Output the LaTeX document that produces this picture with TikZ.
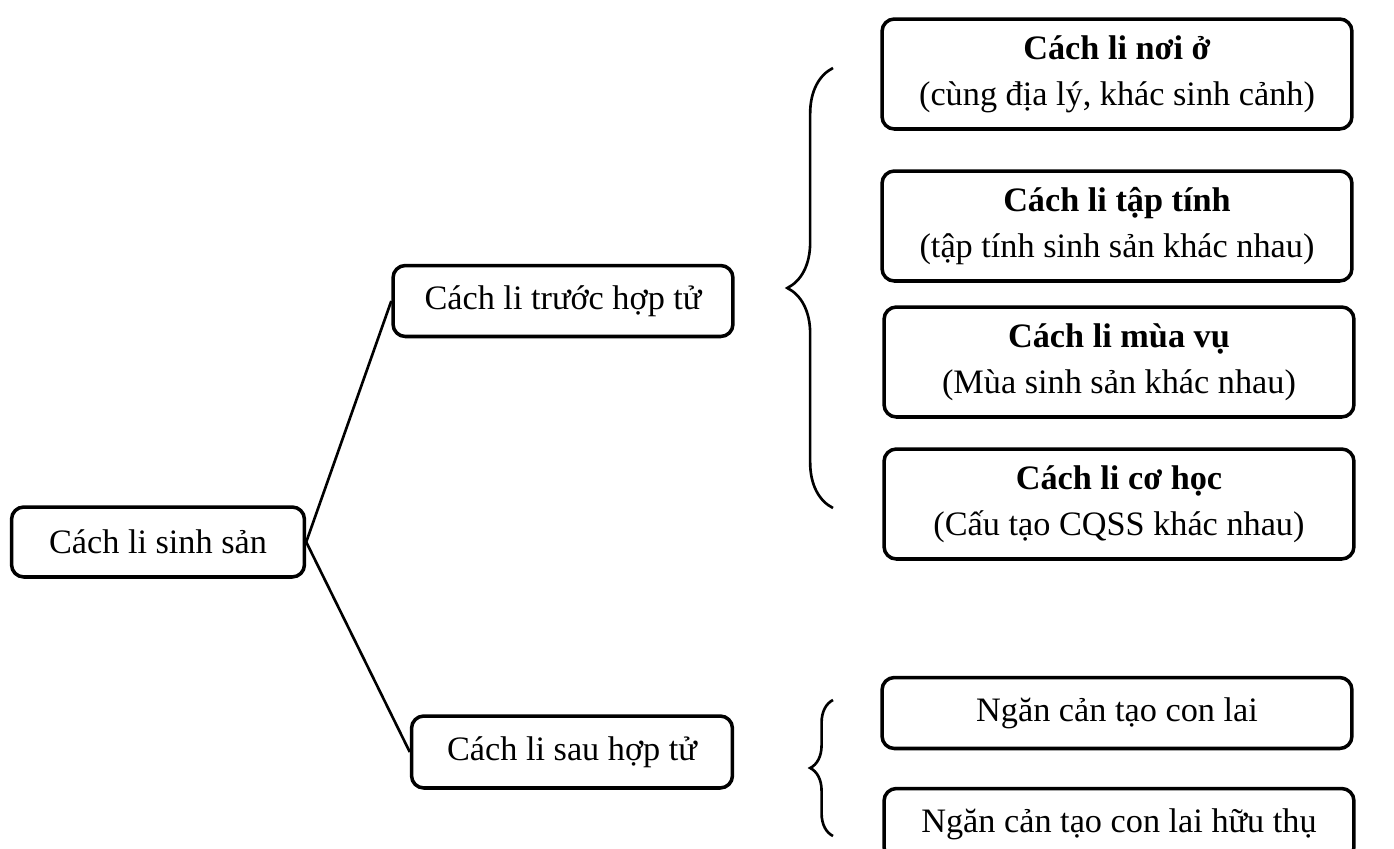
\documentclass[tikz,border=0pt]{standalone}
\usepackage{fontspec}
\setmainfont{Liberation Serif}
\usetikzlibrary{decorations.pathreplacing}

\begin{document}
\begin{tikzpicture}[x=0.02cm,y=-0.02cm,
  hop/.style={draw,line width=2pt,rounded corners=7pt,align=center,
    font=\fontsize{19.5}{26}\selectfont,inner sep=0pt},
  nhom/.style={hop,minimum width=9.4cm,minimum height=2.2cm},
  nho/.style={hop,minimum width=9.4cm,minimum height=1.42cm},
  ngoac/.style={decorate,decoration={brace,amplitude=26pt},line width=1.5pt}]
\useasboundingbox (0,0) rectangle (1394,849);

% left side
\node[hop,minimum width=5.86cm,minimum height=1.4cm] (sinhsan) at (158,542) {Cách li sinh sản};
\node[hop,minimum width=6.8cm,minimum height=1.42cm] (truoc) at (563,301) {Cách li trước hợp tử};
\node[hop,minimum width=6.42cm,minimum height=1.44cm] (sau) at (572,752) {Cách li sau hợp tử};
\draw[line width=1.5pt] (sinhsan.east) -- (truoc.west);
\draw[line width=1.5pt] (sinhsan.east) -- (sau.west);

% right side
\node[nhom] (noio) at (1117,74) {\textbf{Cách li nơi ở}\\(cùng địa lý, khác sinh cảnh)};
\node[nhom] (taptinh) at (1117,226) {\textbf{Cách li tập tính}\\(tập tính sinh sản khác nhau)};
\node[nhom] (muavu) at (1119,362) {\textbf{Cách li mùa vụ}\\(Mùa sinh sản khác nhau)};
\node[nhom] (cohoc) at (1119,504) {\textbf{Cách li cơ học}\\(Cấu tạo CQSS khác nhau)};
\node[nho] (conlai) at (1117,713) {Ngăn cản tạo con lai};
\node[nho] (huuthu) at (1119,824) {Ngăn cản tạo con lai hữu thụ};

% braces
\coordinate (b1) at (833,508);
\coordinate (b2) at (833,68);
\coordinate (b3) at (833,836);
\coordinate (b4) at (833,700);
\draw[ngoac] (b1) -- (b2);
\draw[ngoac,decoration={brace,amplitude=13pt}] (b3) -- (b4);
\end{tikzpicture}
\end{document}
